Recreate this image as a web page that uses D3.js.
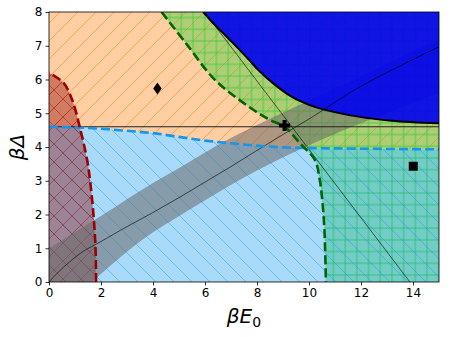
<!DOCTYPE html>
<html><head><meta charset="utf-8">
<script src="https://cdn.jsdelivr.net/npm/d3@7"></script>
<style>body{margin:0;background:#fff}svg{display:block}</style></head>
<body><svg id="c" width="450" height="337"></svg>
<script>
// ---------- data ----------
const xTicks=[0,2,4,6,8,10,12,14];
const yTicks=[0,1,2,3,4,5,6,7,8];
const blueCurve=[[0,4.6],[1,4.58],[2,4.54],[3,4.48],[4,4.41],[5,4.3],[6,4.19],[7,4.11],[8,4.04],[9,3.99],[10,3.97],[12,3.95],[15,3.93]];
const redCurve=[[1.81,0],[1.79,1],[1.71,2],[1.58,3],[1.47,3.6],[1.18,4.6],[0.89,5.4],[0.56,5.9],[0,6.2]];
const greenCurve=[[4.33,8],[5.3,7.04],[6.38,5.99],[7.73,5.17],[8.5,4.8],[9.06,4.6],[9.65,4.11],[10.23,3.61],[10.42,3.0],[10.5,2.5],[10.59,1.6],[10.65,0]];
const blackCurve=[[5.93,8],[6.4,7.6],[6.77,7.32],[7.09,7.07],[7.73,6.55],[8.05,6.28],[8.6,5.9],[9.33,5.49],[10.0,5.25],[10.62,5.10],[11.9,4.9],[13.18,4.78],[15,4.7]];
const thinLine=[[5.98,8],[13.88,0]];
const thinCurve=[[0,0],[0.3,0.25],[0.8,0.6],[1.3,0.9],[2,1.2],[3,1.64],[4,2.06],[5,2.5],[6,2.96],[7,3.42],[8,3.9],[9,4.37],[10,4.83],[12,5.8],[15,6.97]];
const bandUpper=[[0,1.0],[1.8,1.86],[3.5,2.7],[5.38,3.55],[6.83,4.2],[9.27,5.12],[12,6.1],[15,7.2]];
const bandLower=[[1.65,0],[3.5,1.2],[5.38,2.13],[7.5,3.1],[9.85,4.0],[12.3,4.8],[15,5.6]];
const hLineY=4.6;
const markers=[{x:4.17,y:5.73,shape:"diamond"},{x:9.06,y:4.64,shape:"plus"},{x:14.01,y:3.43,shape:"square"}];

// ---------- setup ----------
const L=49,R=439,T=12,B=282;
const x=d3.scaleLinear().domain([0,15]).range([L,R]);
const y=d3.scaleLinear().domain([0,8]).range([B,T]);
const svg=d3.select("#c");
const defs=svg.append("defs");
defs.append("clipPath").attr("id","clip").append("rect").attr("x",L).attr("y",T).attr("width",R-L).attr("height",B-T);

function hatch(id,kind,s,color,op,w){
  const p=defs.append("pattern").attr("id",id).attr("patternUnits","userSpaceOnUse")
    .attr("width",s).attr("height",s);
  const g=p.append("g").attr("stroke",color).attr("stroke-opacity",op).attr("stroke-width",w).attr("fill","none");
  const seg=(a,b,c,d)=>g.append("line").attr("x1",a).attr("y1",b).attr("x2",c).attr("y2",d);
  if(kind==="/"||kind==="x"){seg(-s,s*2,s*2,-s);seg(-s,s,s,-s);seg(0,s*2,s*2,0);}
  if(kind==="\\"||kind==="x"){seg(-s,-s,s*2,s*2);seg(0,-s,s*2,s);seg(-s,0,s,s*2);}
  if(kind==="+"){seg(0,s/2,s,s/2);seg(s/2,0,s/2,s);}
}
hatch("hOr","/",18,"#ff7f0e",0.55,1);
hatch("hBl","\\",18,"#0a96f0",0.45,1);
hatch("hRd","x",18,"#8b0000",0.4,1);
hatch("hGr","+",11.7,"#32cd32",0.55,1.4);

const smooth=d3.line().x(d=>x(d[0])).y(d=>y(d[1])).curve(d3.curveCatmullRom.alpha(0.5));
const P=(pts)=>pts.map(d=>`L${x(d[0])},${y(d[1])}`).join("");
const plot=svg.append("g").attr("clip-path","url(#clip)");

function region(d,fill,fop,pat){
  plot.append("path").attr("d",d).attr("fill",fill).attr("fill-opacity",fop);
  if(pat) plot.append("path").attr("d",d).attr("fill",`url(#${pat})`);
}
// orange: above blue curve
region(smooth(blueCurve)+P([[15,8],[0,8]])+"Z","#ff7f0e",0.38,"hOr");
// green: right of green curve
region(smooth(greenCurve)+P([[15,0],[15,8]])+"Z","#32cd32",0.4,"hGr");
// light blue: below blue curve
region(smooth(blueCurve)+P([[15,0],[0,0]])+"Z","#0a96f0",0.35,"hBl");
// red: left of red curve
region(smooth(redCurve)+P([[0,0]])+"Z","#8b0000",0.4,"hRd");
// gray band
const lowRev=bandLower.slice().reverse();
region(smooth(bandUpper)+smooth(lowRev).replace(/^M/,"L")+P([[0,-1]])+"Z","#696969",0.55,null);
// dark blue: above black curve
region(smooth(blackCurve)+P([[15,8]])+"Z","#0000f0",0.9,null);

// lines
const straight=d3.line().x(d=>x(d[0])).y(d=>y(d[1]));
plot.append("path").attr("d",straight([[0,hLineY],[15,hLineY]])).attr("stroke","#222").attr("stroke-width",1).attr("fill","none");
plot.append("path").attr("d",smooth(thinCurve)).attr("stroke","#000").attr("stroke-width",0.6).attr("fill","none");
plot.append("path").attr("d",straight(thinLine)).attr("stroke","#000").attr("stroke-width",0.6).attr("fill","none");
plot.append("path").attr("d",smooth(blueCurve)).attr("stroke","#1496ee").attr("stroke-width",2.6).attr("stroke-dasharray","9,4").attr("fill","none");
plot.append("path").attr("d",smooth(redCurve)).attr("stroke","#9b0000").attr("stroke-width",2.6).attr("stroke-dasharray","9,4").attr("fill","none");
plot.append("path").attr("d",smooth(greenCurve)).attr("stroke","#006400").attr("stroke-width",2.6).attr("stroke-dasharray","9,4").attr("fill","none");
plot.append("path").attr("d",smooth(blackCurve)).attr("stroke","#000").attr("stroke-width",2).attr("fill","none");

// markers
markers.forEach(m=>{
  const cx=x(m.x),cy=y(m.y);
  let d;
  if(m.shape==="diamond") d=`M${cx},${cy-6}L${cx+4.2},${cy}L${cx},${cy+6}L${cx-4.2},${cy}Z`;
  if(m.shape==="square") d=`M${cx-4.5},${cy-4.5}h9v9h-9Z`;
  if(m.shape==="plus"){const a=5.5,b=2;d=`M${cx-b},${cy-a}h${2*b}v${a-b}h${a-b}v${2*b}h${-(a-b)}v${a-b}h${-2*b}v${-(a-b)}h${-(a-b)}v${-2*b}h${a-b}Z`;}
  svg.append("path").attr("d",d).attr("fill","#000");
});

// axes
const ax=svg.append("g").attr("transform",`translate(0,${B})`).call(d3.axisBottom(x).tickValues(xTicks).tickSize(3.5).tickPadding(3).tickFormat(d3.format("d")));
const ay=svg.append("g").attr("transform",`translate(${L},0)`).call(d3.axisLeft(y).tickValues(yTicks).tickSize(3.5).tickPadding(3).tickFormat(d3.format("d")));
[ax,ay].forEach(a=>{a.select(".domain").remove();a.selectAll("text").attr("font-family","DejaVu Sans").attr("font-size",12).attr("fill","#000");a.selectAll("line").attr("stroke","#000").attr("stroke-width",0.8);});
svg.append("rect").attr("x",L).attr("y",T).attr("width",R-L).attr("height",B-T).attr("fill","none").attr("stroke","#000").attr("stroke-width",0.8);

// axis labels
const xl=svg.append("text").attr("x",(L+R)/2).attr("y",323).attr("text-anchor","middle").attr("font-family","DejaVu Sans").attr("font-size",20);
xl.append("tspan").attr("font-style","italic").text("βE");
xl.append("tspan").attr("font-size",14).attr("dy",4).text("0");
svg.append("text").attr("transform",`translate(24,${(T+B)/2}) rotate(-90)`).attr("text-anchor","middle").attr("font-family","DejaVu Sans").attr("font-size",20).attr("font-style","italic").text("βΔ");
</script></body></html>
